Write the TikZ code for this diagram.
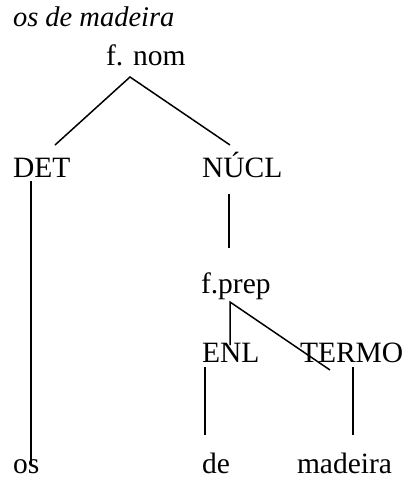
\documentclass[tikz,border=0pt]{standalone}
\usepackage{fontspec}
\setmainfont{Liberation Serif}
\begin{document}
\begin{tikzpicture}[x=1pt,y=-1pt,
  lbl/.style={anchor=base west,inner sep=0pt,outer sep=0pt,font=\fontsize{29.5}{34}\selectfont},
  ttl/.style={anchor=base west,inner sep=0pt,outer sep=0pt,font=\fontsize{28.5}{34}\selectfont\itshape},
  br/.style={line width=1.5pt,black}]
\useasboundingbox (0,0) rectangle (404,479);
\node[ttl] (title) at (13,27) {os de madeira};
\node[lbl] (fnom) at (106,65) {f. nom};
\node[lbl] (det) at (13,177) {DET};
\node[lbl] (nucl) at (202,177) {NÚCL};
\node[lbl] (fprep) at (201,293) {f.prep};
\node[lbl] (enl) at (202,362) {ENL};
\node[lbl] (termo) at (300,362) {TERMO};
\node[lbl] (os) at (13,473) {os};
\node[lbl] (de) at (202,473) {de};
\node[lbl] (madeira) at (297,473) {madeira};
% branch points
\coordinate (fnomB) at (130,77);
\coordinate (detT) at (55,145);
\coordinate (nuclT) at (230,145);
\coordinate (detB) at (31,181);
\coordinate (osT) at (31,465);
\coordinate (nuclB) at (229,194);
\coordinate (fprepT) at (229,248);
\coordinate (fprepB) at (230,302);
\coordinate (enlT) at (230,345);
\coordinate (termoT) at (330,370);
\coordinate (enlB) at (205,367);
\coordinate (deT) at (205,435);
\coordinate (termoB) at (353,367);
\coordinate (madT) at (353,435);
\draw[br] (detT) -- (fnomB) -- (nuclT);
\draw[br] (detB) -- (osT);
\draw[br] (nuclB) -- (fprepT);
\draw[br] (enlT) -- (fprepB) -- (termoT);
\draw[br] (enlB) -- (deT);
\draw[br] (termoB) -- (madT);
\end{tikzpicture}
\end{document}
